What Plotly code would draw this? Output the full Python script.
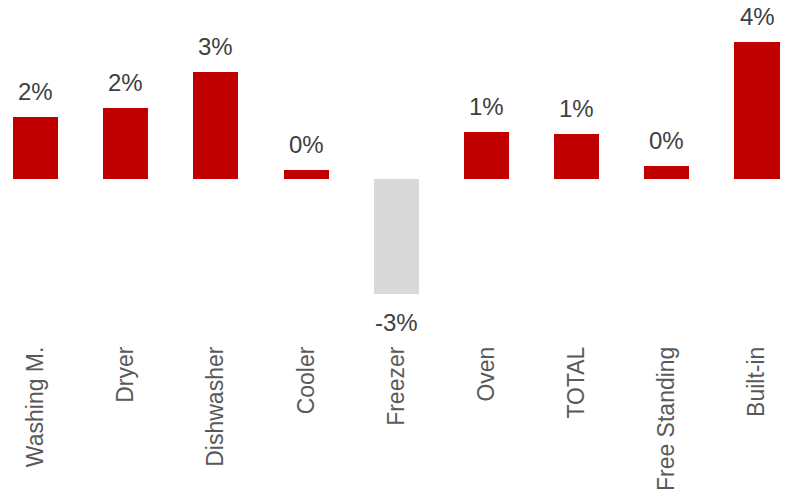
import plotly.graph_objects as go

categories = ["Washing M.", "Dryer", "Dishwasher", "Cooler", "Freezer",
              "Oven", "TOTAL", "Free Standing", "Built-in"]
values = [1.77, 2.04, 3.07, 0.27, -3.28, 1.34, 1.29, 0.38, 3.92]  # percent

RED = "#C00000"
GRAY = "#D9D9D9"
colors = [GRAY if v < 0 else RED for v in values]
labels = [f"{round(v):.0f}%" for v in values]

xs = list(range(len(categories)))

fig = go.Figure()
fig.add_trace(go.Bar(
    x=xs, y=values, width=0.5,
    marker=dict(color=colors, line=dict(width=0)),
    hoverinfo="skip",
))

for x, v, t in zip(xs, values, labels):
    fig.add_annotation(
        x=x, y=v, text=t, showarrow=False,
        yanchor="bottom" if v >= 0 else "top",
        yshift=10 if v >= 0 else -13,
        font=dict(family="Liberation Sans, Arial, sans-serif", size=24, color="#404040"),
    )

fig.update_layout(
    width=792, height=498,
    margin=dict(l=0, r=0, t=0, b=158, autoexpand=False),
    paper_bgcolor="white", plot_bgcolor="white",
    showlegend=False,
    bargap=0,
    xaxis=dict(
        range=[-0.394, 8.388], automargin=False,
        tickmode="array", tickvals=xs, ticktext=categories,
        tickangle=-90, ticks="", showline=False, showgrid=False, zeroline=False,
        ticklabelstandoff=1,
        tickfont=dict(family="Liberation Sans, Arial, sans-serif", size=23, color="#595959"),
    ),
    yaxis=dict(
        range=[-4.6, 5.114], visible=False, showgrid=False, zeroline=False,
        automargin=False,
    ),
)

fig.write_html("out.html")
